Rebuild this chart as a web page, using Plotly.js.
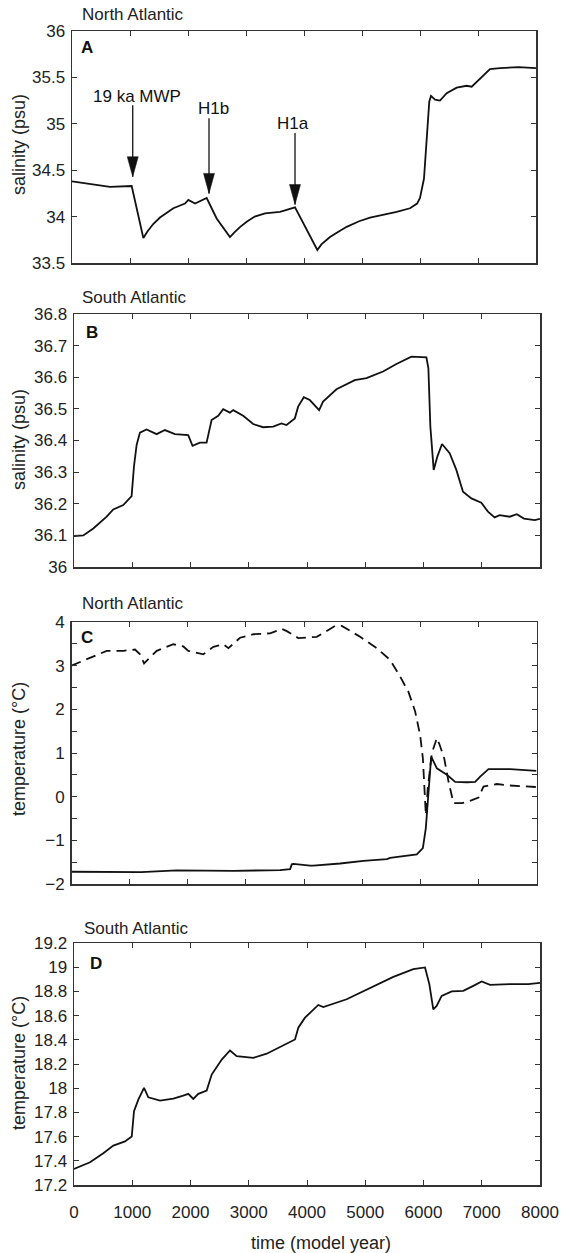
<!DOCTYPE html>
<html><head><meta charset="utf-8">
<script src="https://cdn.plot.ly/plotly-3.0.1.min.js"></script>
<style>html,body{margin:0;padding:0;background:#fff}#chart{width:561px;height:1253px}</style>
</head><body><div id="chart"></div>
<script>
// ---- data ----
const timeA = [0, 300, 655, 1029, 1230, 1300, 1400, 1517, 1747, 1948, 2006, 2121, 2322, 2494, 2724, 2800, 2900, 3012, 3150, 3328, 3586, 3845, 4230, 4300, 4448, 4600, 4736, 4950, 5138, 5598, 5828, 5950, 6000, 6069, 6115, 6160, 6190, 6259, 6345, 6460, 6632, 6805, 6891, 7034, 7207, 7379, 7700, 8000];
const salinityNorth = [34.38, 34.35, 34.32, 34.33, 33.77, 33.84, 33.92, 33.99, 34.09, 34.14, 34.18, 34.14, 34.20, 33.98, 33.78, 33.83, 33.89, 33.945, 34.00, 34.035, 34.05, 34.10, 33.64, 33.70, 33.78, 33.84, 33.89, 33.95, 33.99, 34.05, 34.09, 34.14, 34.20, 34.41, 34.81, 35.24, 35.30, 35.26, 35.25, 35.33, 35.39, 35.41, 35.40, 35.49, 35.59, 35.60, 35.61, 35.60];

const timeB = [0, 160, 331, 561, 674, 846, 989, 1029, 1075, 1132, 1246, 1418, 1561, 1732, 1961, 2035, 2161, 2276, 2362, 2476, 2561, 2676, 2733, 2904, 3076, 3247, 3419, 3562, 3648, 3791, 3848, 3945, 4048, 4208, 4276, 4506, 4820, 5021, 5306, 5535, 5793, 6050, 6084, 6118, 6175, 6238, 6318, 6449, 6564, 6678, 6822, 6993, 7107, 7221, 7307, 7479, 7602, 7725, 7910, 8000];
const salinitySouth = [36.098, 36.10, 36.122, 36.159, 36.182, 36.196, 36.224, 36.317, 36.386, 36.425, 36.435, 36.42, 36.433, 36.42, 36.417, 36.383, 36.393, 36.393, 36.465, 36.478, 36.499, 36.488, 36.496, 36.478, 36.452, 36.442, 36.444, 36.454, 36.449, 36.47, 36.507, 36.537, 36.528, 36.496, 36.523, 36.562, 36.591, 36.597, 36.618, 36.642, 36.665, 36.663, 36.628, 36.444, 36.307, 36.349, 36.389, 36.36, 36.307, 36.238, 36.217, 36.203, 36.175, 36.157, 36.164, 36.159, 36.167, 36.153, 36.148, 36.152];

const timeCsolid = [0, 600, 1200, 1811, 2785, 3589, 3761, 3790, 3818, 4105, 4162, 4621, 5022, 5425, 5482, 5941, 6045, 6096, 6141, 6170, 6188, 6286, 6458, 6601, 6802, 6945, 7031, 7174, 7547, 8000];
const tempNorthSolid = [-1.72, -1.72, -1.73, -1.69, -1.70, -1.68, -1.66, -1.55, -1.54, -1.58, -1.58, -1.53, -1.47, -1.43, -1.40, -1.32, -1.18, -0.72, 0.19, 0.80, 0.915, 0.65, 0.50, 0.34, 0.33, 0.34, 0.46, 0.63, 0.63, 0.59];

const timeCdashed = [0, 318, 606, 892, 1093, 1179, 1248, 1466, 1752, 1924, 2010, 2268, 2441, 2613, 2699, 2900, 3129, 3417, 3618, 3704, 3904, 4220, 4535, 4650, 4966, 5253, 5482, 5654, 5797, 5912, 5998, 6045, 6072, 6096, 6130, 6200, 6286, 6330, 6412, 6487, 6573, 6716, 6888, 7002, 7088, 7318, 7490, 8000];
const tempNorthDashed = [3.00, 3.18, 3.34, 3.34, 3.37, 3.26, 3.05, 3.34, 3.49, 3.44, 3.34, 3.26, 3.43, 3.49, 3.40, 3.64, 3.72, 3.74, 3.84, 3.79, 3.63, 3.66, 3.91, 3.91, 3.66, 3.40, 3.13, 2.75, 2.40, 1.95, 1.41, 0.88, 0.19, -0.42, 0.20, 1.00, 1.34, 1.20, 0.88, 0.34, -0.15, -0.15, -0.08, -0.02, 0.23, 0.29, 0.26, 0.22];

const timeD = [0, 275, 503, 675, 876, 991, 1030, 1104, 1202, 1276, 1476, 1705, 1876, 1962, 2048, 2134, 2278, 2364, 2536, 2678, 2793, 3078, 3308, 3536, 3794, 3851, 3966, 4194, 4280, 4681, 5082, 5482, 5825, 6026, 6100, 6168, 6226, 6312, 6484, 6683, 6855, 6999, 7142, 7313, 7485, 7800, 8000];
const tempSouth = [17.333, 17.388, 17.463, 17.526, 17.56, 17.60, 17.81, 17.905, 18.003, 17.925, 17.897, 17.914, 17.939, 17.953, 17.911, 17.953, 17.98, 18.113, 18.237, 18.312, 18.265, 18.251, 18.285, 18.34, 18.403, 18.50, 18.583, 18.688, 18.671, 18.735, 18.827, 18.92, 18.984, 18.998, 18.86, 18.652, 18.68, 18.763, 18.80, 18.804, 18.846, 18.882, 18.854, 18.86, 18.86, 18.86, 18.87];

// tick labels
const xTickVals = [0, 1000, 2000, 3000, 4000, 5000, 6000, 7000, 8000];
const xTickText = ['0', '1000', '2000', '3000', '4000', '5000', '6000', '7000', '8000'];
const yTickValsA = [33.5, 34, 34.5, 35, 35.5, 36];
const yTickTextA = ['33.5', '34', '34.5', '35', '35.5', '36'];
const yTickValsB = [36, 36.1, 36.2, 36.3, 36.4, 36.5, 36.6, 36.7, 36.8];
const yTickTextB = ['36', '36.1', '36.2', '36.3', '36.4', '36.5', '36.6', '36.7', '36.8'];
const yTickValsC = [-2, -1.5, -1, -0.5, 0, 0.5, 1, 1.5, 2, 2.5, 3, 3.5, 4];
const yTickTextC = ['\u22122', '', '\u22121', '', '0', '', '1', '', '2', '', '3', '', '4'];
const yTickValsD = [17.2, 17.4, 17.6, 17.8, 18, 18.2, 18.4, 18.6, 18.8, 19, 19.2];
const yTickTextD = ['17.2', '17.4', '17.6', '17.8', '18', '18.2', '18.4', '18.6', '18.8', '19', '19.2'];

// event labels (panel A)
const eventNames = ['19 ka MWP', 'H1b', 'H1a'];
const eventTime = [1047, 2362, 3845];
const eventTip = [34.43, 34.25, 34.13];
const eventTail = [35.20, 35.06, 34.90];
const eventTextX = [1129, 2448, 3816];
const eventTextY = [35.29, 35.17, 35.005];

// ---- layout helpers ----
const W = 561, H = 1253;
const FONT = 'Liberation Sans, Arial, Helvetica, sans-serif';
const INK = '#111';
const AX = '#333';
const px = v => v / W;
const py = v => 1 - v / H;

function xAxis(l, r, anchor, labels) {
  return {
    domain: [px(l), px(r)], anchor: anchor, range: [0, 8000],
    showgrid: false, zeroline: false, showline: true, mirror: 'ticks',
    linecolor: AX, linewidth: 1.5, ticks: 'inside', ticklen: 5, tickwidth: 1, tickcolor: AX,
    tickvals: xTickVals, ticktext: xTickText, showticklabels: labels,
    tickfont: {family: FONT, size: 17, color: '#222'}, ticklabelstandoff: 11,
    fixedrange: true
  };
}
function yAxis(t, b, anchor, range, vals, text) {
  return {
    domain: [py(b), py(t)], anchor: anchor, range: range,
    showgrid: false, zeroline: false, showline: true, mirror: 'ticks',
    linecolor: AX, linewidth: 1.5, ticks: 'inside', ticklen: 5, tickwidth: 1, tickcolor: AX,
    tickvals: vals, ticktext: text,
    tickfont: {family: FONT, size: 17, color: '#222'}, ticklabelstandoff: 2,
    fixedrange: true
  };
}

const lineStyle = {color: INK, width: 1.8};
const traces = [
  {x: timeA, y: salinityNorth, xaxis: 'x', yaxis: 'y', mode: 'lines', line: lineStyle},
  {x: timeB, y: salinitySouth, xaxis: 'x2', yaxis: 'y2', mode: 'lines', line: lineStyle},
  {x: timeCdashed, y: tempNorthDashed, xaxis: 'x3', yaxis: 'y3', mode: 'lines', line: {color: INK, width: 1.8, dash: '10px,6px'}},
  {x: timeCsolid, y: tempNorthSolid, xaxis: 'x3', yaxis: 'y3', mode: 'lines', line: lineStyle},
  {x: timeD, y: tempSouth, xaxis: 'x4', yaxis: 'y4', mode: 'lines', line: lineStyle}
];

const annotations = [];
const txt = (text, x, y, opts) => Object.assign({
  text: text, x: px(x), y: py(y), xref: 'paper', yref: 'paper', showarrow: false,
  xanchor: 'left', yanchor: 'middle', font: {family: FONT, size: 17, color: '#222'}
}, opts || {});

// panel titles
annotations.push(txt('North Atlantic', 80, 15));
annotations.push(txt('South Atlantic', 80, 297));
annotations.push(txt('North Atlantic', 80, 603));
annotations.push(txt('South Atlantic', 82, 928));
// panel letters
const letterFont = {family: FONT, size: 17, color: '#111'};
annotations.push(txt('<b>A</b>', 87, 47.5, {xanchor: 'center', font: letterFont}));
annotations.push(txt('<b>B</b>', 92, 332, {xanchor: 'center', font: letterFont}));
annotations.push(txt('<b>C</b>', 87, 637, {xanchor: 'center', font: letterFont}));
annotations.push(txt('<b>D</b>', 96, 963, {xanchor: 'center', font: letterFont}));
// axis titles
const yTitle = (text, y) => txt(text, 19, y, {xanchor: 'center', textangle: -90, font: {family: FONT, size: 18, color: '#222'}});
annotations.push(yTitle('salinity (psu)', 145));
annotations.push(yTitle('salinity (psu)', 440));
annotations.push(yTitle('temperature (\u00B0C)', 749));
annotations.push(yTitle('temperature (\u00B0C)', 1063));
annotations.push(txt('time (model year)', 321, 1243, {xanchor: 'center', font: {family: FONT, size: 18, color: '#222'}}));

const shapes = [];
eventNames.forEach((name, i) => {
  annotations.push({
    text: name, x: eventTextX[i], y: eventTextY[i], xref: 'x', yref: 'y', showarrow: false,
    xanchor: 'center', yanchor: 'middle', font: {family: FONT, size: 17, color: '#111'}
  });
  shapes.push({type: 'line', xref: 'x', yref: 'y', x0: eventTime[i], x1: eventTime[i],
    y0: eventTail[i], y1: eventTip[i], line: {color: INK, width: 1.3}});
  shapes.push({type: 'path', xref: 'x', yref: 'y', xsizemode: 'pixel', ysizemode: 'pixel',
    xanchor: eventTime[i], yanchor: eventTip[i], path: 'M-5.5,20L5.5,20L0,0Z',
    fillcolor: INK, line: {color: INK, width: 0.5}});
});

const layout = {
  width: W, height: H, margin: {l: 0, r: 0, t: 0, b: 0},
  paper_bgcolor: '#fff', plot_bgcolor: '#fff', showlegend: false,
  font: {family: FONT, color: '#222'},
  xaxis: xAxis(72, 536, 'y', false),
  yaxis: yAxis(31, 263, 'x', [33.5, 36], yTickValsA, yTickTextA),
  xaxis2: xAxis(74, 540, 'y2', false),
  yaxis2: yAxis(314, 567, 'x2', [36, 36.8], yTickValsB, yTickTextB),
  xaxis3: xAxis(71.5, 536.5, 'y3', false),
  yaxis3: yAxis(622, 884, 'x3', [-2, 4], yTickValsC, yTickTextC),
  xaxis4: xAxis(74, 540, 'y4', true),
  yaxis4: yAxis(943, 1185, 'x4', [17.2, 19.2], yTickValsD, yTickTextD),
  annotations: annotations, shapes: shapes
};

Plotly.newPlot('chart', traces, layout, {staticPlot: true, displayModeBar: false});
</script></body></html>
